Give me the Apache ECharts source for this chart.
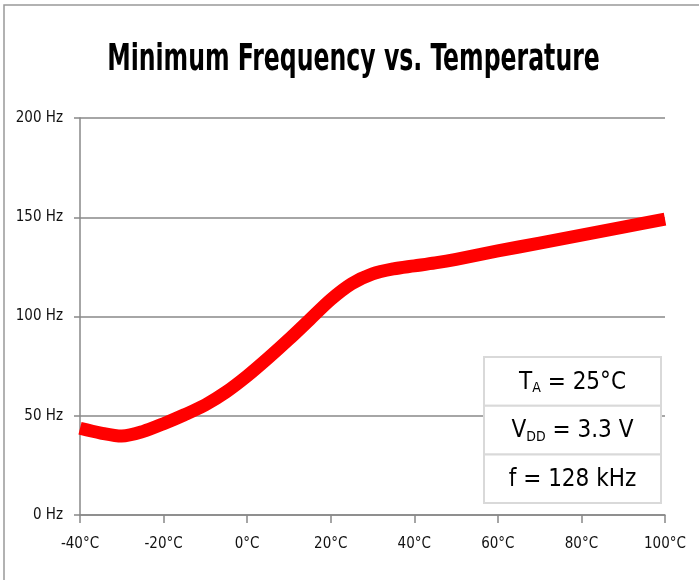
<!DOCTYPE html>
<html>
<head>
<meta charset="utf-8">
<script src="https://cdn.jsdelivr.net/npm/echarts@6/dist/echarts.min.js"></script>
<style>
html,body{margin:0;padding:0;background:#fff;}
#c{width:699px;height:580px;}
</style>
</head>
<body>
<div id="c"></div>
<script>
const titleText = 'Minimum Frequency vs. Temperature';
const temperatures = [-40, -35, -30, -25, -20, -15, -10, -5, 0, 5, 10, 15, 20, 25, 30, 35, 40, 45, 50, 60, 70, 80, 90, 100];
const minFrequency = [43.7, 41.3, 39.8, 42, 46, 50.5, 55.5, 62, 70, 79, 88.5, 98.5, 108.5, 116.5, 121.5, 124, 125.5, 127, 128.8, 133, 137, 141, 145, 149];
const xTicks = [-40, -20, 0, 20, 40, 60, 80, 100];
const yTicks = [0, 50, 100, 150, 200];
const conditions = ['T_A = 25°C', 'V_DD = 3.3 V', 'f = 128 kHz'];

const FONT = '"DejaVu Sans Condensed", "Liberation Sans Narrow", sans-serif';
const chart = echarts.init(document.getElementById('c'));

const boxX = 484, boxY = 357, boxW = 177, cellH = 48.7;
const boxGraphics = [];
const richStyles = {
  n: {fontSize: 24, fontFamily: FONT, color: '#222'},
  s: {fontSize: 14, fontFamily: FONT, color: '#222', padding: [12, 0, 0, 0]}
};
function toRich(str) {
  const m = str.match(/^(\w)_(\w+)(.*)$/);
  if (m) return '{n|' + m[1] + '}{s|' + m[2] + '}{n|' + m[3] + '}';
  return '{n|' + str + '}';
}
conditions.forEach(function (c, i) {
  boxGraphics.push({
    type: 'rect',
    shape: {x: boxX, y: boxY + i * cellH, width: boxW, height: cellH},
    style: {fill: '#fff', stroke: '#d9d9d9', lineWidth: 2},
    z: 100
  });
  boxGraphics.push({
    type: 'text',
    x: boxX + boxW / 2, y: boxY + i * cellH + cellH / 2 + 1,
    style: {text: toRich(c), rich: richStyles, align: 'center', verticalAlign: 'middle'},
    z: 101
  });
});

chart.setOption({
  animation: false,
  backgroundColor: '#fff',
  grid: {left: 80, right: 34, top: 118, bottom: 65},
  xAxis: {
    type: 'value', min: xTicks[0], max: xTicks[xTicks.length - 1], interval: 20,
    axisLine: {show: true, onZero: false, lineStyle: {color: '#888', width: 1.5}},
    axisTick: {show: true, length: 8, lineStyle: {color: '#888', width: 1.5}},
    axisLabel: {formatter: '{value}°C', margin: 29, fontFamily: FONT, fontSize: 15, color: '#111', verticalAlign: 'middle'},
    splitLine: {show: false}
  },
  yAxis: {
    type: 'value', min: yTicks[0], max: yTicks[yTicks.length - 1], interval: 50,
    axisLine: {show: true, onZero: false, lineStyle: {color: '#888', width: 1.5}},
    axisTick: {show: true, length: 6, lineStyle: {color: '#888', width: 1.5}},
    axisLabel: {formatter: '{value} Hz', margin: 17, fontFamily: FONT, fontSize: 15, color: '#111'},
    splitLine: {show: true, lineStyle: {color: '#888', width: 1.5}}
  },
  series: [{
    type: 'line',
    data: temperatures.map(function (t, i) { return [t, minFrequency[i]]; }),
    smooth: 0.3,
    showSymbol: false,
    lineStyle: {color: '#ff0000', width: 13, cap: 'butt', join: 'round'},
    z: 5
  }],
  graphic: [{
    type: 'rect',
    shape: {x: 4, y: 5, width: 900, height: 700},
    style: {fill: 'none', stroke: '#999', lineWidth: 1.5},
    z: 0, silent: true
  }, {
    type: 'text',
    x: 353.5, y: 60, scaleX: 0.69,
    style: {text: titleText, fontFamily: FONT, fontSize: 38, fontWeight: 'bold', fill: '#000', align: 'center', verticalAlign: 'middle'},
    z: 50
  }].concat(boxGraphics)
});
</script>
</body>
</html>
